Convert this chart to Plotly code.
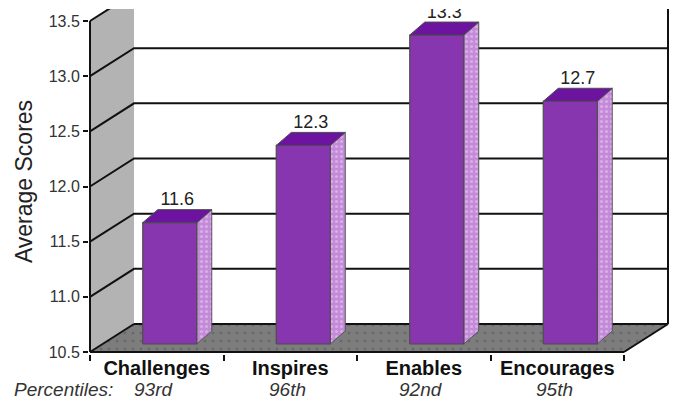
import plotly.graph_objects as go

categories = ["Challenges", "Inspires", "Enables", "Encourages"]
scores = [11.6, 12.3, 13.3, 12.7]
percentiles = ["93rd", "96th", "92nd", "95th"]
y_ticks = [10.5, 11.0, 11.5, 12.0, 12.5, 13.0, 13.5]
y_min, y_max = 10.5, 13.5

FONT = "Liberation Sans, Arial, Helvetica, sans-serif"
PX = 110.33              # pixels per score unit
X0, XEND = 90, 624       # front floor edge (x units = px)
SLOT = (XEND - X0) / len(categories)
WDX, WDV = 44, 28 / PX   # wall depth offset
BDX, BDV = 15, 13 / PX   # bar depth offset
BASE = 8 / PX            # bar base lift
BW, BOFF = 54, 14
XR0, XR1 = 89, 670       # x range (plot area)

fig = go.Figure()


def poly(xs, ys, fill, lc="rgba(0,0,0,0)", lw=0, pattern=None):
    fig.add_trace(go.Scatter(
        x=list(xs) + [xs[0]], y=list(ys) + [ys[0]], mode="lines",
        fill="toself", fillcolor=fill, fillpattern=pattern,
        line=dict(color=lc, width=lw), hoverinfo="skip", showlegend=False))


def line(xs, ys, color="#111111", w=2):
    fig.add_trace(go.Scatter(
        x=xs, y=ys, mode="lines", line=dict(color=color, width=w),
        hoverinfo="skip", showlegend=False))


# side wall
poly([X0, X0 + WDX, X0 + WDX, X0],
     [y_min, y_min + WDV, y_max + WDV, y_max], "#b3b3b3")

# gridlines (side wall + back wall)
for v in y_ticks[1:]:
    line([X0, X0 + WDX, XEND + WDX], [v, v + WDV, v + WDV])

# floor
poly([X0, XEND, XEND + WDX, X0 + WDX],
     [y_min, y_min, y_min + WDV, y_min + WDV], "#7d7d7d",
     pattern=dict(shape=".", bgcolor="#7d7d7d", fgcolor="#555555",
                  size=8, solidity=0.12))
line([X0 + WDX, XEND + WDX], [y_min + WDV, y_min + WDV])
line([X0, X0 + WDX], [y_min, y_min + WDV])
line([XEND, XEND + WDX], [y_min, y_min + WDV])
# right wall edge
line([XEND + WDX, XEND + WDX], [y_min + WDV, y_max + WDV + 1])

# bars
lab_x, lab_y = [], []
for i, v in enumerate(scores):
    xc = X0 + (i + 0.5) * SLOT
    xl = xc - BOFF
    xr = xl + BW
    b = y_min + BASE
    t = v + BASE
    poly([xr, xr + BDX, xr + BDX, xr], [b, b + BDV, t + BDV, t], "#c48ad9",
         "#555555", 1,
         pattern=dict(shape=".", bgcolor="#c48ad9", fgcolor="#ead2f2",
                      size=5, solidity=0.3))
    poly([xl, xr, xr, xl], [b, b, t, t], "#8836b0", "#4d4d4d", 1.2)
    poly([xl, xr, xr + BDX, xl + BDX], [t, t, t + BDV, t + BDV], "#6c139f",
         "#4d4d4d", 1)
    lab_x.append(xl + (BW + BDX) / 2)
    lab_y.append(t + BDV)

fig.add_trace(go.Scatter(
    x=lab_x, y=lab_y, mode="text", text=[f"{v:.1f}" for v in scores],
    textposition="top center", cliponaxis=True,
    textfont=dict(family=FONT, size=18, color="#222222"),
    hoverinfo="skip", showlegend=False))

# front axis lines
line([X0, X0], [y_min, y_max])
line([X0, XEND], [y_min, y_min])

centers = [X0 + (i + 0.5) * SLOT for i in range(len(categories))]
bounds = [X0 + i * SLOT for i in range(len(categories) + 1)]

fig.update_layout(
    width=678, height=400,
    margin=dict(l=XR0, r=678 - XR1, t=9, b=46),
    plot_bgcolor="white", paper_bgcolor="white",
    font=dict(family=FONT),
    xaxis=dict(
        range=[XR0, XR1], showgrid=False, zeroline=False, showline=False,
        tickmode="array", tickvals=centers,
        ticktext=[f"<b>{c}</b>" for c in categories],
        ticks="", tickfont=dict(family=FONT, size=20, color="#111111"),
        minor=dict(tickmode="array", tickvals=bounds, ticks="outside",
                   ticklen=6, tickwidth=2, tickcolor="#111111"),
    ),
    yaxis=dict(
        range=[y_min - 2 / PX, y_max + 12 / PX], showgrid=False,
        zeroline=False, showline=False,
        tickmode="array", tickvals=y_ticks, tickformat=".1f",
        ticks="outside", ticklen=5, tickwidth=2, tickcolor="#111111",
        tickfont=dict(family=FONT, size=16, color="#333333"),
        title=dict(text="Average Scores", standoff=9,
                   font=dict(family=FONT, size=23, color="#222222")),
    ),
)


def xpaper(px):
    return (px - XR0) / (XR1 - XR0)


py = (354 - 389) / 345
fig.add_annotation(x=xpaper(12), y=py, xref="paper", yref="paper",
                   text="<i>Percentiles:</i>",
                   showarrow=False, xanchor="left", yanchor="middle",
                   font=dict(family=FONT, size=19, color="#333333"))
for c, p in zip(centers, percentiles):
    fig.add_annotation(x=xpaper(c - 3), y=py, xref="paper", yref="paper",
                       text=f"<i>{p}</i>",
                       showarrow=False, xanchor="center", yanchor="middle",
                       font=dict(family=FONT, size=19, color="#333333"))

fig.write_html("out.html")
